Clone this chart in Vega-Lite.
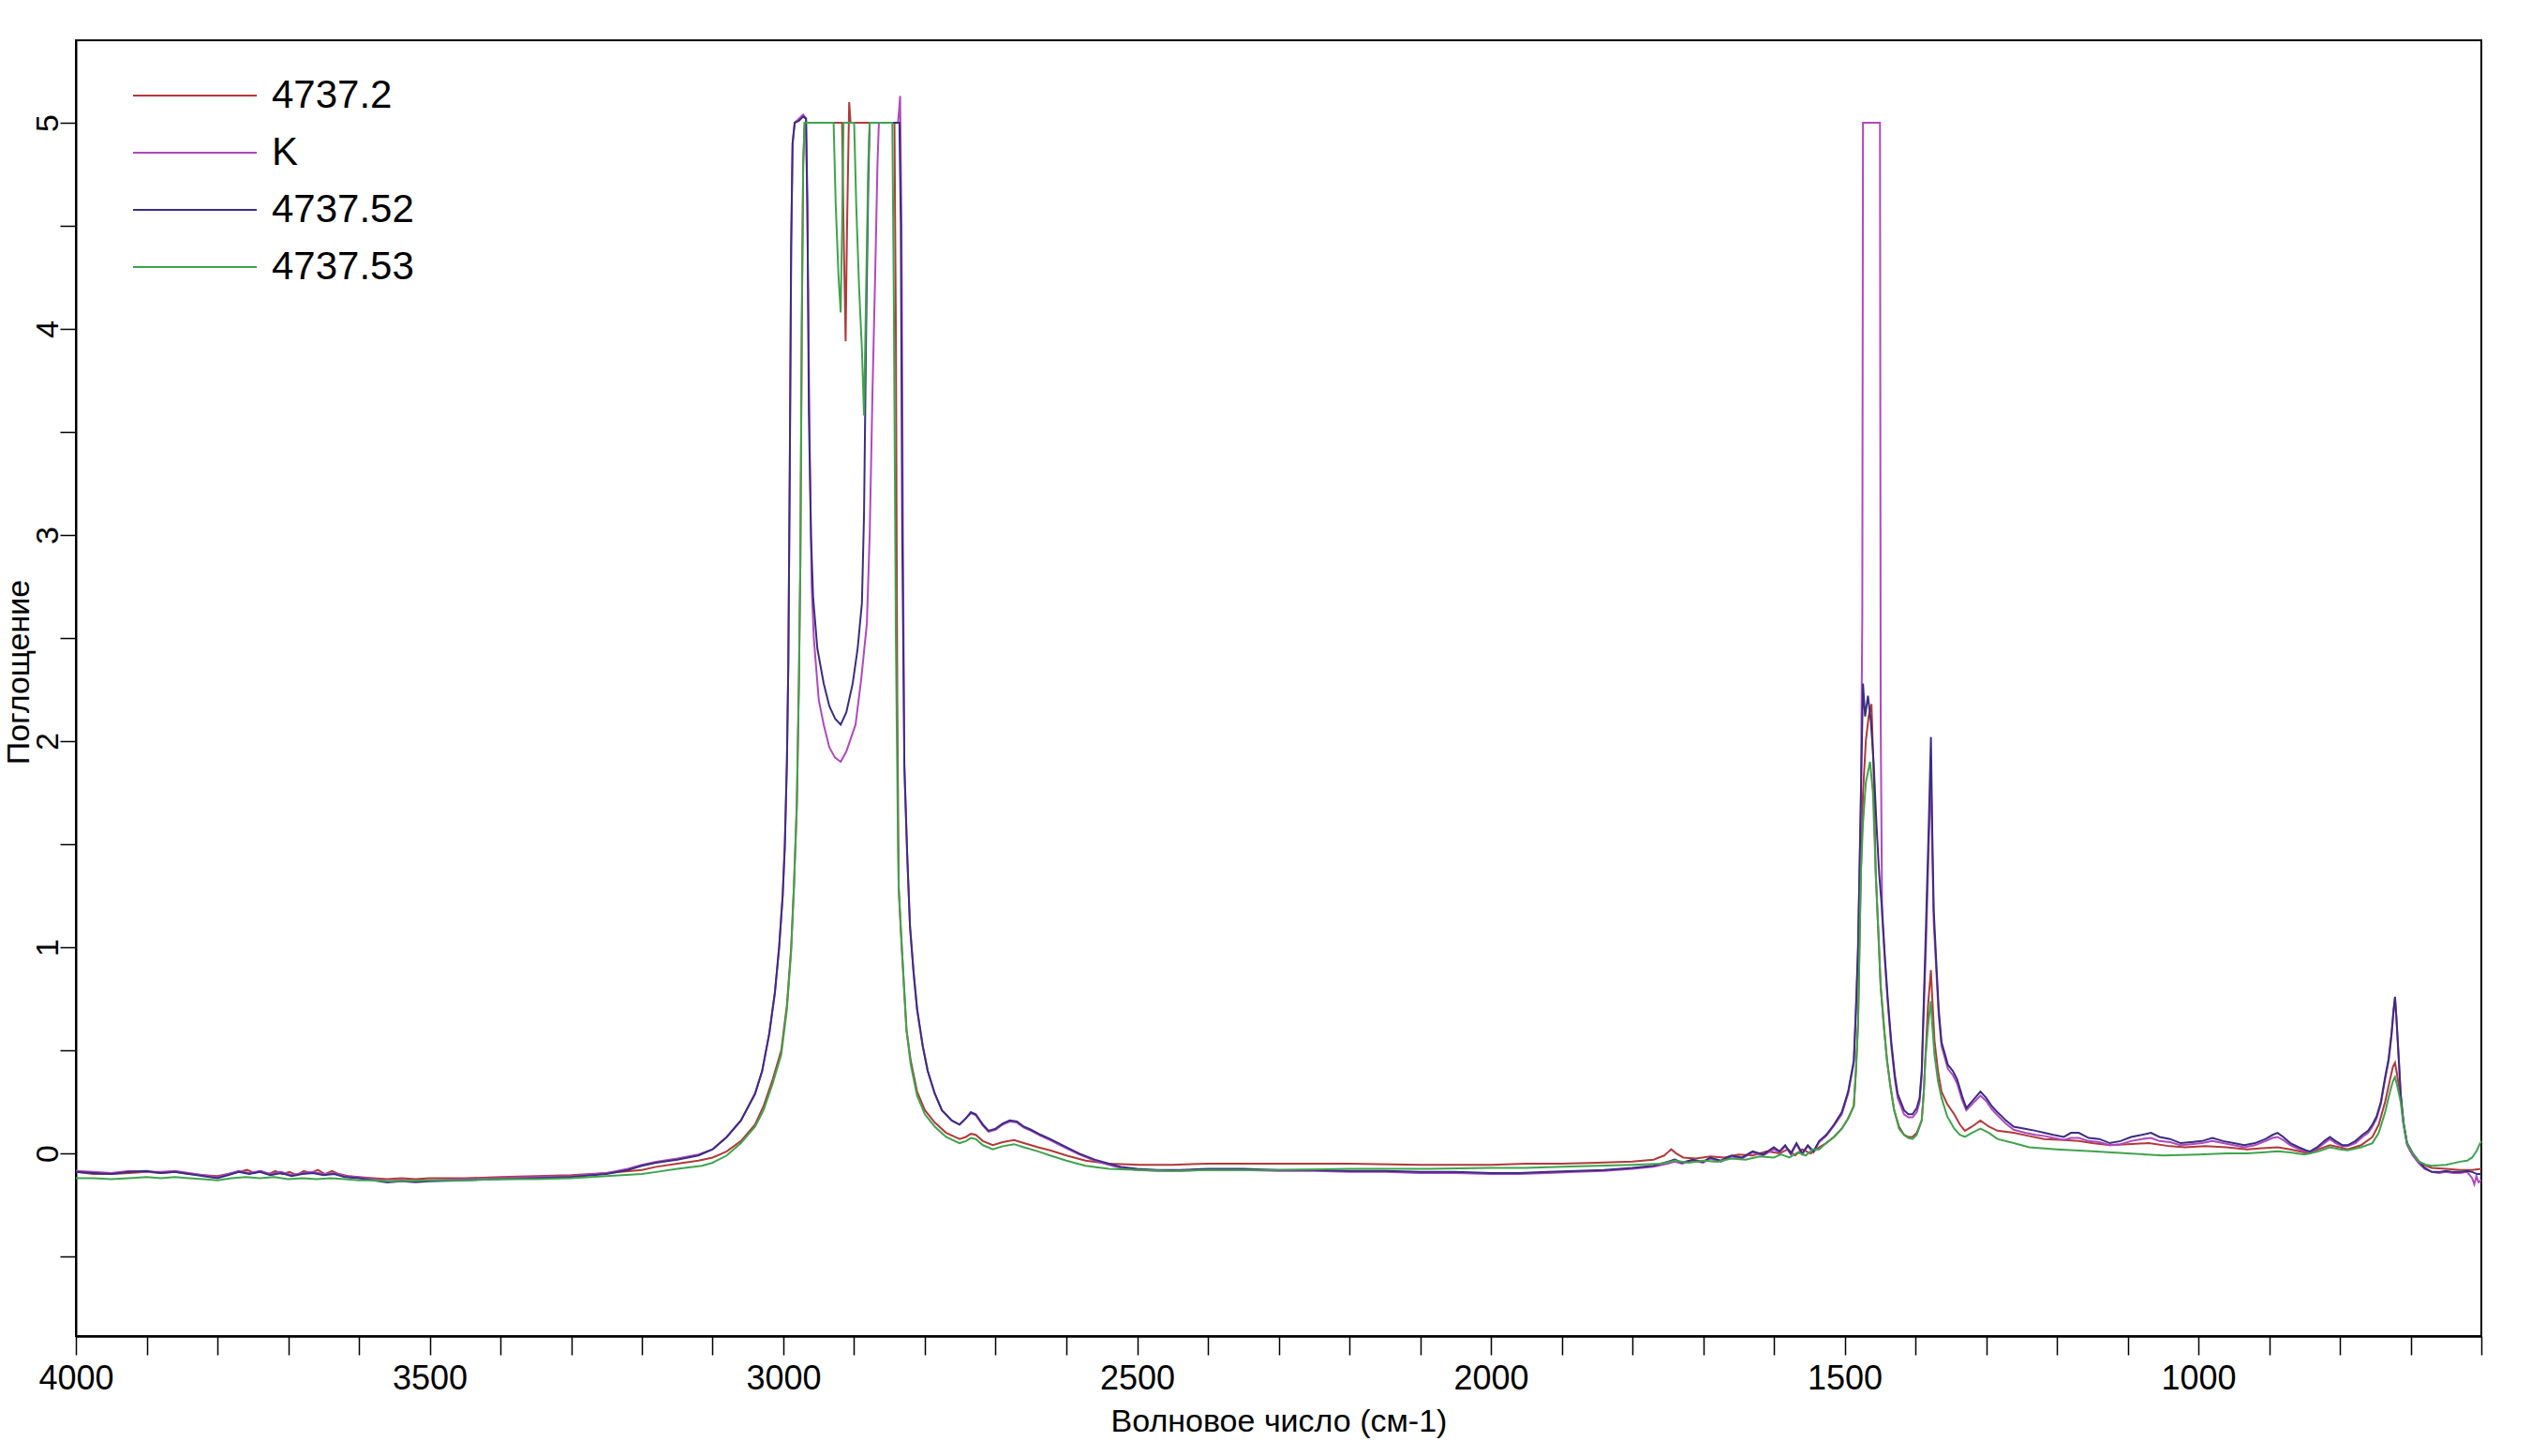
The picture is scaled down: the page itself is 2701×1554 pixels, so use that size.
{
  "$schema": "https://vega.github.io/schema/vega-lite/v6.json",
  "width": 2567,
  "height": 1383,
  "autosize": {"type": "none"},
  "padding": {"left": 81, "top": 43, "right": 53, "bottom": 128},
  "background": "white",
  "config": {"view": {"stroke": "black", "strokeWidth": 2}, "font": "Liberation Sans"},
  "datasets": {
    "n2": [{"x":4000,"y":-0.09},{"x":3975,"y":-0.1},{"x":3950,"y":-0.1},{"x":3925,"y":-0.095},{"x":3900,"y":-0.09},{"x":3880,"y":-0.095},{"x":3860,"y":-0.09},{"x":3840,"y":-0.1},{"x":3820,"y":-0.105},{"x":3800,"y":-0.11},{"x":3785,"y":-0.1},{"x":3770,"y":-0.09},{"x":3758,"y":-0.08},{"x":3748,"y":-0.095},{"x":3738,"y":-0.085},{"x":3728,"y":-0.1},{"x":3718,"y":-0.085},{"x":3708,"y":-0.1},{"x":3698,"y":-0.09},{"x":3688,"y":-0.105},{"x":3678,"y":-0.085},{"x":3668,"y":-0.095},{"x":3658,"y":-0.08},{"x":3648,"y":-0.1},{"x":3638,"y":-0.085},{"x":3628,"y":-0.1},{"x":3615,"y":-0.11},{"x":3600,"y":-0.115},{"x":3580,"y":-0.12},{"x":3560,"y":-0.125},{"x":3540,"y":-0.12},{"x":3520,"y":-0.125},{"x":3500,"y":-0.12},{"x":3450,"y":-0.12},{"x":3400,"y":-0.115},{"x":3350,"y":-0.11},{"x":3300,"y":-0.105},{"x":3250,"y":-0.095},{"x":3200,"y":-0.08},{"x":3180,"y":-0.065},{"x":3150,"y":-0.05},{"x":3120,"y":-0.035},{"x":3100,"y":-0.02},{"x":3080,"y":0.01},{"x":3060,"y":0.06},{"x":3040,"y":0.14},{"x":3028,"y":0.23},{"x":3015,"y":0.36},{"x":3003,"y":0.5},{"x":2995,"y":0.72},{"x":2989,"y":1.0},{"x":2985,"y":1.3},{"x":2981,"y":1.69},{"x":2978,"y":2.3},{"x":2976,"y":2.87},{"x":2974,"y":4.0},{"x":2972,"y":4.8},{"x":2970,"y":5.0},{"x":2940,"y":5.0},{"x":2917,"y":5.0},{"x":2915,"y":4.5},{"x":2912,"y":3.94},{"x":2910,"y":4.5},{"x":2907,"y":5.1},{"x":2905,"y":5.0},{"x":2870,"y":5.0},{"x":2843,"y":5.0},{"x":2841,"y":4.0},{"x":2839,"y":2.2},{"x":2837,"y":1.29},{"x":2834,"y":1.08},{"x":2831,"y":0.9},{"x":2826,"y":0.6},{"x":2820,"y":0.45},{"x":2811,"y":0.3},{"x":2800,"y":0.21},{"x":2786,"y":0.15},{"x":2770,"y":0.1},{"x":2751,"y":0.07},{"x":2742,"y":0.08},{"x":2735,"y":0.095},{"x":2728,"y":0.09},{"x":2718,"y":0.06},{"x":2704,"y":0.04},{"x":2690,"y":0.055},{"x":2674,"y":0.065},{"x":2660,"y":0.05},{"x":2640,"y":0.03},{"x":2623,"y":0.015},{"x":2600,"y":-0.01},{"x":2573,"y":-0.035},{"x":2540,"y":-0.05},{"x":2496,"y":-0.055},{"x":2450,"y":-0.055},{"x":2400,"y":-0.05},{"x":2300,"y":-0.05},{"x":2200,"y":-0.05},{"x":2100,"y":-0.055},{"x":2000,"y":-0.055},{"x":1950,"y":-0.05},{"x":1900,"y":-0.05},{"x":1850,"y":-0.045},{"x":1800,"y":-0.04},{"x":1770,"y":-0.03},{"x":1755,"y":-0.01},{"x":1745,"y":0.02},{"x":1738,"y":0.0},{"x":1728,"y":-0.02},{"x":1710,"y":-0.025},{"x":1690,"y":-0.015},{"x":1670,"y":-0.02},{"x":1650,"y":-0.005},{"x":1630,"y":-0.01},{"x":1610,"y":0.01},{"x":1592,"y":0.0},{"x":1580,"y":0.02},{"x":1570,"y":-0.01},{"x":1560,"y":0.02},{"x":1548,"y":0.0},{"x":1536,"y":0.03},{"x":1526,"y":0.05},{"x":1515,"y":0.08},{"x":1504,"y":0.12},{"x":1495,"y":0.17},{"x":1487,"y":0.23},{"x":1484,"y":0.4},{"x":1481,"y":0.63},{"x":1477,"y":1.36},{"x":1474,"y":1.75},{"x":1470,"y":2.0},{"x":1466,"y":2.12},{"x":1462,"y":2.18},{"x":1459,"y":1.85},{"x":1456,"y":1.36},{"x":1452,"y":1.05},{"x":1449,"y":0.81},{"x":1444,"y":0.6},{"x":1440,"y":0.45},{"x":1435,"y":0.32},{"x":1430,"y":0.21},{"x":1423,"y":0.13},{"x":1416,"y":0.09},{"x":1410,"y":0.08},{"x":1404,"y":0.08},{"x":1398,"y":0.1},{"x":1391,"y":0.16},{"x":1388,"y":0.3},{"x":1386,"y":0.45},{"x":1382,"y":0.72},{"x":1378,"y":0.89},{"x":1376,"y":0.75},{"x":1373,"y":0.55},{"x":1368,"y":0.4},{"x":1363,"y":0.3},{"x":1355,"y":0.24},{"x":1345,"y":0.19},{"x":1337,"y":0.14},{"x":1330,"y":0.11},{"x":1320,"y":0.13},{"x":1308,"y":0.16},{"x":1296,"y":0.13},{"x":1284,"y":0.11},{"x":1261,"y":0.1},{"x":1240,"y":0.085},{"x":1218,"y":0.07},{"x":1190,"y":0.065},{"x":1169,"y":0.06},{"x":1150,"y":0.05},{"x":1125,"y":0.04},{"x":1100,"y":0.045},{"x":1070,"y":0.05},{"x":1040,"y":0.035},{"x":1019,"y":0.03},{"x":990,"y":0.035},{"x":960,"y":0.03},{"x":931,"y":0.02},{"x":910,"y":0.025},{"x":888,"y":0.03},{"x":870,"y":0.02},{"x":850,"y":0.005},{"x":842,"y":0.0},{"x":830,"y":0.02},{"x":814,"y":0.04},{"x":800,"y":0.03},{"x":789,"y":0.02},{"x":770,"y":0.04},{"x":754,"y":0.08},{"x":745,"y":0.14},{"x":736,"y":0.25},{"x":729,"y":0.36},{"x":725,"y":0.42},{"x":722,"y":0.44},{"x":719,"y":0.38},{"x":714,"y":0.27},{"x":710,"y":0.15},{"x":705,"y":0.05},{"x":697,"y":0.0},{"x":688,"y":-0.04},{"x":678,"y":-0.06},{"x":670,"y":-0.07},{"x":650,"y":-0.075},{"x":630,"y":-0.08},{"x":613,"y":-0.08},{"x":600,"y":-0.075}],
    "nK": [{"x":4000,"y":-0.085},{"x":3975,"y":-0.09},{"x":3950,"y":-0.095},{"x":3925,"y":-0.085},{"x":3900,"y":-0.09},{"x":3880,"y":-0.09},{"x":3860,"y":-0.085},{"x":3840,"y":-0.095},{"x":3820,"y":-0.105},{"x":3800,"y":-0.115},{"x":3785,"y":-0.1},{"x":3770,"y":-0.085},{"x":3755,"y":-0.095},{"x":3740,"y":-0.085},{"x":3725,"y":-0.1},{"x":3710,"y":-0.09},{"x":3695,"y":-0.105},{"x":3680,"y":-0.095},{"x":3665,"y":-0.09},{"x":3650,"y":-0.1},{"x":3635,"y":-0.095},{"x":3620,"y":-0.11},{"x":3600,"y":-0.115},{"x":3580,"y":-0.125},{"x":3560,"y":-0.135},{"x":3540,"y":-0.13},{"x":3520,"y":-0.135},{"x":3500,"y":-0.13},{"x":3450,"y":-0.125},{"x":3400,"y":-0.12},{"x":3350,"y":-0.115},{"x":3300,"y":-0.11},{"x":3250,"y":-0.095},{"x":3220,"y":-0.075},{"x":3200,"y":-0.055},{"x":3180,"y":-0.04},{"x":3150,"y":-0.025},{"x":3120,"y":-0.005},{"x":3100,"y":0.02},{"x":3080,"y":0.08},{"x":3060,"y":0.16},{"x":3040,"y":0.29},{"x":3030,"y":0.4},{"x":3020,"y":0.58},{"x":3012,"y":0.78},{"x":3006,"y":1.0},{"x":3001,"y":1.25},{"x":2998,"y":1.49},{"x":2995,"y":1.9},{"x":2993,"y":2.38},{"x":2991,"y":3.3},{"x":2989,"y":4.4},{"x":2987,"y":4.9},{"x":2984,"y":5.0},{"x":2978,"y":5.02},{"x":2972,"y":5.04},{"x":2968,"y":5.02},{"x":2966,"y":4.5},{"x":2963,"y":3.5},{"x":2960,"y":2.75},{"x":2957,"y":2.5},{"x":2950,"y":2.2},{"x":2943,"y":2.08},{"x":2935,"y":1.97},{"x":2927,"y":1.92},{"x":2919,"y":1.9},{"x":2911,"y":1.95},{"x":2904,"y":2.02},{"x":2898,"y":2.08},{"x":2890,"y":2.3},{"x":2882,"y":2.57},{"x":2878,"y":3.0},{"x":2874,"y":3.7},{"x":2870,"y":4.3},{"x":2867,"y":4.8},{"x":2865,"y":5.0},{"x":2850,"y":5.0},{"x":2838,"y":5.0},{"x":2836,"y":5.08},{"x":2835,"y":5.13},{"x":2833,"y":4.5},{"x":2831,"y":3.0},{"x":2829,"y":1.88},{"x":2825,"y":1.45},{"x":2821,"y":1.1},{"x":2816,"y":0.88},{"x":2811,"y":0.7},{"x":2803,"y":0.52},{"x":2796,"y":0.4},{"x":2786,"y":0.29},{"x":2776,"y":0.21},{"x":2762,"y":0.16},{"x":2751,"y":0.14},{"x":2742,"y":0.17},{"x":2735,"y":0.195},{"x":2728,"y":0.185},{"x":2718,"y":0.135},{"x":2710,"y":0.105},{"x":2700,"y":0.115},{"x":2690,"y":0.14},{"x":2680,"y":0.155},{"x":2670,"y":0.15},{"x":2660,"y":0.125},{"x":2650,"y":0.11},{"x":2636,"y":0.085},{"x":2623,"y":0.065},{"x":2600,"y":0.025},{"x":2582,"y":-0.005},{"x":2560,"y":-0.035},{"x":2540,"y":-0.055},{"x":2523,"y":-0.07},{"x":2500,"y":-0.08},{"x":2471,"y":-0.085},{"x":2440,"y":-0.085},{"x":2400,"y":-0.08},{"x":2350,"y":-0.08},{"x":2300,"y":-0.085},{"x":2250,"y":-0.085},{"x":2200,"y":-0.09},{"x":2150,"y":-0.09},{"x":2100,"y":-0.095},{"x":2050,"y":-0.095},{"x":2000,"y":-0.1},{"x":1960,"y":-0.1},{"x":1920,"y":-0.095},{"x":1880,"y":-0.09},{"x":1840,"y":-0.085},{"x":1800,"y":-0.075},{"x":1770,"y":-0.065},{"x":1750,"y":-0.05},{"x":1740,"y":-0.04},{"x":1730,"y":-0.05},{"x":1715,"y":-0.035},{"x":1700,"y":-0.045},{"x":1690,"y":-0.025},{"x":1675,"y":-0.04},{"x":1660,"y":-0.015},{"x":1645,"y":-0.025},{"x":1630,"y":0.005},{"x":1615,"y":-0.01},{"x":1600,"y":0.02},{"x":1592,"y":0.005},{"x":1584,"y":0.035},{"x":1576,"y":-0.005},{"x":1568,"y":0.045},{"x":1560,"y":-0.005},{"x":1552,"y":0.035},{"x":1544,"y":0.005},{"x":1536,"y":0.055},{"x":1526,"y":0.085},{"x":1515,"y":0.135},{"x":1504,"y":0.19},{"x":1495,"y":0.29},{"x":1487,"y":0.44},{"x":1484,"y":0.68},{"x":1481,"y":0.98},{"x":1477,"y":1.7},{"x":1475,"y":2.6},{"x":1474,"y":5.0},{"x":1460,"y":5.0},{"x":1450,"y":5.0},{"x":1449,"y":2.1},{"x":1447,"y":1.16},{"x":1443,"y":0.93},{"x":1439,"y":0.73},{"x":1434,"y":0.52},{"x":1429,"y":0.36},{"x":1425,"y":0.27},{"x":1416,"y":0.19},{"x":1410,"y":0.175},{"x":1404,"y":0.175},{"x":1398,"y":0.2},{"x":1394,"y":0.25},{"x":1391,"y":0.38},{"x":1389,"y":0.6},{"x":1385,"y":1.0},{"x":1381,"y":1.5},{"x":1378,"y":1.86},{"x":1376,"y":1.45},{"x":1374,"y":1.12},{"x":1370,"y":0.86},{"x":1367,"y":0.67},{"x":1363,"y":0.52},{"x":1358,"y":0.46},{"x":1354,"y":0.41},{"x":1347,"y":0.38},{"x":1341,"y":0.34},{"x":1334,"y":0.26},{"x":1328,"y":0.21},{"x":1318,"y":0.245},{"x":1308,"y":0.28},{"x":1300,"y":0.255},{"x":1292,"y":0.215},{"x":1284,"y":0.185},{"x":1272,"y":0.145},{"x":1261,"y":0.115},{"x":1245,"y":0.1},{"x":1230,"y":0.09},{"x":1218,"y":0.085},{"x":1205,"y":0.075},{"x":1190,"y":0.065},{"x":1180,"y":0.075},{"x":1169,"y":0.075},{"x":1155,"y":0.06},{"x":1140,"y":0.055},{"x":1125,"y":0.04},{"x":1110,"y":0.045},{"x":1095,"y":0.06},{"x":1080,"y":0.07},{"x":1067,"y":0.075},{"x":1055,"y":0.06},{"x":1040,"y":0.055},{"x":1025,"y":0.04},{"x":1010,"y":0.045},{"x":995,"y":0.05},{"x":980,"y":0.06},{"x":965,"y":0.05},{"x":950,"y":0.04},{"x":935,"y":0.03},{"x":920,"y":0.04},{"x":905,"y":0.06},{"x":895,"y":0.075},{"x":888,"y":0.08},{"x":880,"y":0.065},{"x":870,"y":0.04},{"x":858,"y":0.02},{"x":848,"y":0.01},{"x":842,"y":0.005},{"x":832,"y":0.025},{"x":822,"y":0.05},{"x":814,"y":0.07},{"x":806,"y":0.05},{"x":796,"y":0.035},{"x":789,"y":0.035},{"x":778,"y":0.05},{"x":768,"y":0.08},{"x":760,"y":0.1},{"x":754,"y":0.13},{"x":748,"y":0.17},{"x":742,"y":0.24},{"x":736,"y":0.36},{"x":731,"y":0.45},{"x":727,"y":0.57},{"x":724,"y":0.69},{"x":722,"y":0.75},{"x":720,"y":0.65},{"x":717,"y":0.47},{"x":714,"y":0.28},{"x":710,"y":0.14},{"x":705,"y":0.04},{"x":697,"y":-0.01},{"x":688,"y":-0.05},{"x":680,"y":-0.075},{"x":670,"y":-0.09},{"x":660,"y":-0.095},{"x":650,"y":-0.09},{"x":640,"y":-0.095},{"x":630,"y":-0.095},{"x":620,"y":-0.09},{"x":613,"y":-0.12},{"x":610,"y":-0.15},{"x":607,"y":-0.11},{"x":604,"y":-0.14},{"x":600,"y":-0.13}],
    "n52": [{"x":4000,"y":-0.09},{"x":3975,"y":-0.095},{"x":3950,"y":-0.1},{"x":3925,"y":-0.09},{"x":3900,"y":-0.085},{"x":3880,"y":-0.095},{"x":3860,"y":-0.09},{"x":3840,"y":-0.1},{"x":3820,"y":-0.11},{"x":3800,"y":-0.12},{"x":3785,"y":-0.105},{"x":3770,"y":-0.09},{"x":3755,"y":-0.1},{"x":3740,"y":-0.09},{"x":3725,"y":-0.105},{"x":3710,"y":-0.095},{"x":3695,"y":-0.11},{"x":3680,"y":-0.1},{"x":3665,"y":-0.095},{"x":3650,"y":-0.105},{"x":3635,"y":-0.1},{"x":3620,"y":-0.115},{"x":3600,"y":-0.12},{"x":3580,"y":-0.13},{"x":3560,"y":-0.14},{"x":3540,"y":-0.135},{"x":3520,"y":-0.14},{"x":3500,"y":-0.135},{"x":3450,"y":-0.13},{"x":3400,"y":-0.125},{"x":3350,"y":-0.12},{"x":3300,"y":-0.115},{"x":3250,"y":-0.1},{"x":3220,"y":-0.08},{"x":3200,"y":-0.06},{"x":3180,"y":-0.045},{"x":3150,"y":-0.03},{"x":3120,"y":-0.01},{"x":3100,"y":0.02},{"x":3080,"y":0.08},{"x":3060,"y":0.16},{"x":3040,"y":0.29},{"x":3030,"y":0.4},{"x":3020,"y":0.58},{"x":3012,"y":0.78},{"x":3006,"y":1.0},{"x":3001,"y":1.25},{"x":2998,"y":1.49},{"x":2995,"y":1.9},{"x":2993,"y":2.38},{"x":2991,"y":3.3},{"x":2989,"y":4.4},{"x":2987,"y":4.9},{"x":2984,"y":5.0},{"x":2978,"y":5.01},{"x":2972,"y":5.03},{"x":2968,"y":5.02},{"x":2966,"y":4.6},{"x":2964,"y":3.6},{"x":2961,"y":3.0},{"x":2958,"y":2.7},{"x":2952,"y":2.45},{"x":2943,"y":2.28},{"x":2935,"y":2.17},{"x":2927,"y":2.11},{"x":2919,"y":2.08},{"x":2911,"y":2.14},{"x":2902,"y":2.28},{"x":2895,"y":2.45},{"x":2889,"y":2.67},{"x":2886,"y":3.1},{"x":2883,"y":4.0},{"x":2880,"y":4.7},{"x":2878,"y":5.0},{"x":2860,"y":5.0},{"x":2845,"y":5.0},{"x":2836,"y":5.0},{"x":2834,"y":4.5},{"x":2832,"y":3.0},{"x":2829,"y":1.88},{"x":2825,"y":1.45},{"x":2821,"y":1.1},{"x":2816,"y":0.88},{"x":2811,"y":0.7},{"x":2803,"y":0.52},{"x":2796,"y":0.4},{"x":2786,"y":0.29},{"x":2776,"y":0.21},{"x":2762,"y":0.16},{"x":2751,"y":0.14},{"x":2742,"y":0.17},{"x":2735,"y":0.2},{"x":2728,"y":0.19},{"x":2718,"y":0.14},{"x":2710,"y":0.11},{"x":2700,"y":0.12},{"x":2690,"y":0.145},{"x":2680,"y":0.16},{"x":2670,"y":0.155},{"x":2660,"y":0.13},{"x":2650,"y":0.115},{"x":2636,"y":0.09},{"x":2623,"y":0.07},{"x":2600,"y":0.03},{"x":2582,"y":0.0},{"x":2560,"y":-0.03},{"x":2540,"y":-0.05},{"x":2523,"y":-0.065},{"x":2500,"y":-0.075},{"x":2471,"y":-0.08},{"x":2440,"y":-0.08},{"x":2400,"y":-0.075},{"x":2350,"y":-0.075},{"x":2300,"y":-0.08},{"x":2250,"y":-0.08},{"x":2200,"y":-0.085},{"x":2150,"y":-0.085},{"x":2100,"y":-0.09},{"x":2050,"y":-0.09},{"x":2000,"y":-0.095},{"x":1960,"y":-0.095},{"x":1920,"y":-0.09},{"x":1880,"y":-0.085},{"x":1840,"y":-0.08},{"x":1800,"y":-0.07},{"x":1770,"y":-0.06},{"x":1750,"y":-0.04},{"x":1740,"y":-0.03},{"x":1730,"y":-0.045},{"x":1715,"y":-0.03},{"x":1700,"y":-0.04},{"x":1690,"y":-0.02},{"x":1675,"y":-0.035},{"x":1660,"y":-0.01},{"x":1645,"y":-0.02},{"x":1630,"y":0.01},{"x":1615,"y":-0.005},{"x":1600,"y":0.03},{"x":1592,"y":0.01},{"x":1584,"y":0.04},{"x":1576,"y":0.0},{"x":1568,"y":0.05},{"x":1560,"y":0.0},{"x":1552,"y":0.04},{"x":1544,"y":0.01},{"x":1536,"y":0.06},{"x":1526,"y":0.09},{"x":1515,"y":0.14},{"x":1504,"y":0.2},{"x":1495,"y":0.3},{"x":1487,"y":0.45},{"x":1484,"y":0.7},{"x":1481,"y":1.0},{"x":1477,"y":1.73},{"x":1474,"y":2.28},{"x":1471,"y":2.12},{"x":1467,"y":2.22},{"x":1463,"y":2.1},{"x":1459,"y":1.9},{"x":1455,"y":1.6},{"x":1451,"y":1.35},{"x":1447,"y":1.18},{"x":1443,"y":0.95},{"x":1439,"y":0.75},{"x":1434,"y":0.54},{"x":1429,"y":0.38},{"x":1425,"y":0.29},{"x":1416,"y":0.21},{"x":1410,"y":0.19},{"x":1404,"y":0.19},{"x":1398,"y":0.22},{"x":1394,"y":0.27},{"x":1391,"y":0.4},{"x":1389,"y":0.63},{"x":1385,"y":1.1},{"x":1381,"y":1.6},{"x":1378,"y":2.02},{"x":1376,"y":1.55},{"x":1374,"y":1.18},{"x":1370,"y":0.9},{"x":1367,"y":0.7},{"x":1363,"y":0.54},{"x":1358,"y":0.48},{"x":1354,"y":0.43},{"x":1347,"y":0.4},{"x":1341,"y":0.36},{"x":1334,"y":0.28},{"x":1328,"y":0.22},{"x":1318,"y":0.26},{"x":1308,"y":0.3},{"x":1300,"y":0.27},{"x":1292,"y":0.23},{"x":1284,"y":0.2},{"x":1272,"y":0.16},{"x":1261,"y":0.13},{"x":1245,"y":0.12},{"x":1230,"y":0.11},{"x":1218,"y":0.1},{"x":1205,"y":0.09},{"x":1190,"y":0.08},{"x":1180,"y":0.1},{"x":1169,"y":0.1},{"x":1155,"y":0.075},{"x":1140,"y":0.07},{"x":1125,"y":0.05},{"x":1110,"y":0.06},{"x":1095,"y":0.08},{"x":1080,"y":0.09},{"x":1067,"y":0.1},{"x":1055,"y":0.08},{"x":1040,"y":0.07},{"x":1025,"y":0.05},{"x":1010,"y":0.055},{"x":995,"y":0.06},{"x":980,"y":0.075},{"x":965,"y":0.06},{"x":950,"y":0.05},{"x":935,"y":0.04},{"x":920,"y":0.05},{"x":905,"y":0.07},{"x":895,"y":0.09},{"x":888,"y":0.1},{"x":880,"y":0.08},{"x":870,"y":0.05},{"x":858,"y":0.03},{"x":848,"y":0.015},{"x":842,"y":0.01},{"x":832,"y":0.03},{"x":822,"y":0.06},{"x":814,"y":0.08},{"x":806,"y":0.06},{"x":796,"y":0.04},{"x":789,"y":0.04},{"x":778,"y":0.06},{"x":768,"y":0.09},{"x":760,"y":0.11},{"x":754,"y":0.14},{"x":748,"y":0.18},{"x":742,"y":0.25},{"x":736,"y":0.37},{"x":731,"y":0.46},{"x":727,"y":0.58},{"x":724,"y":0.7},{"x":722,"y":0.76},{"x":720,"y":0.66},{"x":717,"y":0.48},{"x":714,"y":0.29},{"x":710,"y":0.15},{"x":705,"y":0.05},{"x":697,"y":0.0},{"x":688,"y":-0.04},{"x":680,"y":-0.07},{"x":670,"y":-0.09},{"x":660,"y":-0.09},{"x":650,"y":-0.085},{"x":640,"y":-0.09},{"x":630,"y":-0.09},{"x":620,"y":-0.085},{"x":613,"y":-0.09},{"x":606,"y":-0.1},{"x":600,"y":-0.1}],
    "n53": [{"x":4000,"y":-0.12},{"x":3975,"y":-0.12},{"x":3950,"y":-0.125},{"x":3925,"y":-0.12},{"x":3900,"y":-0.115},{"x":3880,"y":-0.12},{"x":3860,"y":-0.115},{"x":3840,"y":-0.12},{"x":3820,"y":-0.125},{"x":3800,"y":-0.13},{"x":3780,"y":-0.12},{"x":3760,"y":-0.115},{"x":3740,"y":-0.12},{"x":3720,"y":-0.115},{"x":3700,"y":-0.125},{"x":3680,"y":-0.12},{"x":3660,"y":-0.125},{"x":3640,"y":-0.12},{"x":3620,"y":-0.125},{"x":3600,"y":-0.13},{"x":3580,"y":-0.13},{"x":3560,"y":-0.135},{"x":3540,"y":-0.135},{"x":3500,"y":-0.13},{"x":3450,"y":-0.13},{"x":3400,"y":-0.125},{"x":3350,"y":-0.125},{"x":3300,"y":-0.12},{"x":3250,"y":-0.11},{"x":3200,"y":-0.1},{"x":3180,"y":-0.09},{"x":3150,"y":-0.075},{"x":3115,"y":-0.06},{"x":3100,"y":-0.045},{"x":3080,"y":-0.01},{"x":3060,"y":0.05},{"x":3040,"y":0.13},{"x":3028,"y":0.21},{"x":3015,"y":0.34},{"x":3003,"y":0.48},{"x":2995,"y":0.7},{"x":2989,"y":0.98},{"x":2985,"y":1.3},{"x":2981,"y":1.69},{"x":2978,"y":2.3},{"x":2976,"y":2.87},{"x":2974,"y":4.0},{"x":2972,"y":4.8},{"x":2970,"y":5.0},{"x":2950,"y":5.0},{"x":2929,"y":5.0},{"x":2926,"y":4.6},{"x":2922,"y":4.25},{"x":2919,"y":4.08},{"x":2917,"y":4.5},{"x":2915,"y":5.0},{"x":2900,"y":5.0},{"x":2897,"y":4.6},{"x":2893,"y":4.2},{"x":2889,"y":3.9},{"x":2886,"y":3.58},{"x":2883,"y":4.2},{"x":2880,"y":4.8},{"x":2878,"y":5.0},{"x":2860,"y":5.0},{"x":2846,"y":5.0},{"x":2844,"y":4.2},{"x":2841,"y":2.5},{"x":2838,"y":1.5},{"x":2837,"y":1.29},{"x":2831,"y":0.9},{"x":2826,"y":0.6},{"x":2820,"y":0.43},{"x":2811,"y":0.28},{"x":2800,"y":0.19},{"x":2786,"y":0.13},{"x":2770,"y":0.08},{"x":2751,"y":0.05},{"x":2742,"y":0.06},{"x":2735,"y":0.075},{"x":2728,"y":0.07},{"x":2718,"y":0.04},{"x":2704,"y":0.02},{"x":2690,"y":0.035},{"x":2674,"y":0.045},{"x":2660,"y":0.03},{"x":2640,"y":0.01},{"x":2623,"y":-0.01},{"x":2600,"y":-0.035},{"x":2573,"y":-0.06},{"x":2540,"y":-0.075},{"x":2496,"y":-0.08},{"x":2450,"y":-0.085},{"x":2400,"y":-0.08},{"x":2300,"y":-0.08},{"x":2200,"y":-0.075},{"x":2100,"y":-0.075},{"x":2000,"y":-0.07},{"x":1950,"y":-0.07},{"x":1900,"y":-0.065},{"x":1850,"y":-0.06},{"x":1800,"y":-0.055},{"x":1760,"y":-0.05},{"x":1740,"y":-0.035},{"x":1720,"y":-0.045},{"x":1700,"y":-0.035},{"x":1680,"y":-0.04},{"x":1660,"y":-0.025},{"x":1640,"y":-0.03},{"x":1620,"y":-0.015},{"x":1600,"y":-0.02},{"x":1590,"y":-0.005},{"x":1578,"y":-0.02},{"x":1566,"y":0.005},{"x":1555,"y":-0.01},{"x":1545,"y":0.02},{"x":1536,"y":0.02},{"x":1526,"y":0.05},{"x":1515,"y":0.08},{"x":1504,"y":0.12},{"x":1495,"y":0.17},{"x":1487,"y":0.23},{"x":1484,"y":0.4},{"x":1481,"y":0.63},{"x":1477,"y":1.36},{"x":1474,"y":1.6},{"x":1470,"y":1.8},{"x":1464,"y":1.9},{"x":1460,"y":1.75},{"x":1456,"y":1.36},{"x":1452,"y":1.05},{"x":1449,"y":0.81},{"x":1444,"y":0.6},{"x":1440,"y":0.45},{"x":1435,"y":0.32},{"x":1430,"y":0.21},{"x":1423,"y":0.12},{"x":1416,"y":0.09},{"x":1410,"y":0.075},{"x":1404,"y":0.07},{"x":1398,"y":0.09},{"x":1391,"y":0.16},{"x":1388,"y":0.3},{"x":1386,"y":0.45},{"x":1382,"y":0.62},{"x":1378,"y":0.74},{"x":1376,"y":0.62},{"x":1373,"y":0.48},{"x":1368,"y":0.35},{"x":1363,"y":0.27},{"x":1355,"y":0.18},{"x":1345,"y":0.12},{"x":1337,"y":0.09},{"x":1330,"y":0.08},{"x":1320,"y":0.1},{"x":1308,"y":0.12},{"x":1296,"y":0.1},{"x":1284,"y":0.07},{"x":1261,"y":0.05},{"x":1239,"y":0.03},{"x":1200,"y":0.02},{"x":1150,"y":0.01},{"x":1100,"y":0.0},{"x":1050,"y":-0.01},{"x":1000,"y":-0.005},{"x":960,"y":0.0},{"x":931,"y":0.0},{"x":910,"y":0.005},{"x":888,"y":0.01},{"x":870,"y":0.005},{"x":850,"y":-0.005},{"x":842,"y":0.0},{"x":830,"y":0.01},{"x":814,"y":0.03},{"x":800,"y":0.02},{"x":789,"y":0.015},{"x":770,"y":0.03},{"x":754,"y":0.05},{"x":745,"y":0.1},{"x":736,"y":0.2},{"x":729,"y":0.3},{"x":725,"y":0.35},{"x":722,"y":0.37},{"x":719,"y":0.33},{"x":714,"y":0.25},{"x":710,"y":0.14},{"x":705,"y":0.05},{"x":697,"y":0.0},{"x":688,"y":-0.04},{"x":678,"y":-0.055},{"x":670,"y":-0.06},{"x":650,"y":-0.055},{"x":630,"y":-0.04},{"x":620,"y":-0.035},{"x":613,"y":-0.02},{"x":607,"y":0.01},{"x":603,"y":0.04},{"x":600,"y":0.06}]
  },
  "encoding": {
    "x": {
      "field": "x",
      "type": "quantitative",
      "scale": {"domain": [600, 4000], "reverse": true, "nice": false, "zero": false},
      "axis": {
        "title": "Волновое число (см-1)",
        "values": [600,700,800,900,1000,1100,1200,1300,1400,1500,1600,1700,1800,1900,2000,2100,2200,2300,2400,2500,2600,2700,2800,2900,3000,3100,3200,3300,3400,3500,3600,3700,3800,3900,4000],
        "labelExpr": "datum.value % 500 === 0 ? format(datum.value, 'd') : ''",
        "labelFlush": false,
        "labelOverlap": false,
        "labelFontSize": 36,
        "labelColor": "black",
        "labelPadding": 8,
        "tickSize": 20,
        "tickWidth": 1.5,
        "tickColor": "black",
        "domainColor": "black",
        "domainWidth": 2.5,
        "grid": false,
        "titleFontSize": 34,
        "titleFontWeight": "normal",
        "titleColor": "black",
        "titleY": 91,
        "titleBaseline": "middle"
      }
    },
    "y": {
      "field": "y",
      "type": "quantitative",
      "scale": {"domain": [-0.886, 5.4], "nice": false, "zero": false},
      "axis": {
        "title": "Поглощение",
        "values": [-0.5,0,0.5,1,1.5,2,2.5,3,3.5,4,4.5,5],
        "labelExpr": "datum.value % 1 === 0 ? format(datum.value, 'd') : ''",
        "labelAngle": -90,
        "labelAlign": "center",
        "labelBaseline": "alphabetic",
        "labelFontSize": 34,
        "labelColor": "black",
        "labelPadding": 3,
        "tickSize": 17,
        "tickWidth": 1.5,
        "tickColor": "black",
        "domainColor": "black",
        "domainWidth": 2,
        "grid": false,
        "titleFontSize": 34,
        "titleFontWeight": "normal",
        "titleColor": "black",
        "titleAngle": -90,
        "titleX": -61,
        "titleY": 674,
        "titleAlign": "center",
        "titleBaseline": "middle"
      }
    }
  },
  "layer": [
    {
      "data": {"name": "n2"},
      "mark": {"type": "line", "strokeWidth": 2},
      "encoding": {
        "color": {
          "datum": "4737.2",
          "type": "nominal",
          "scale": {"domain": ["4737.2", "K", "4737.52", "4737.53"], "range": ["#b03a3a", "#b048c0", "#3b2d80", "#3fa34d"]},
          "legend": {
            "title": null,
            "orient": "none",
            "legendX": 101,
            "legendY": 33,
            "symbolType": "M-2.64,0H2.64",
            "symbolSize": 2500,
            "symbolStrokeWidth": 2,
            "symbolFillColor": "transparent",
            "labelFontSize": 42,
            "labelColor": "black",
            "labelOffset": 56,
            "rowPadding": 14,
            "padding": 0
          }
        }
      }
    },
    {
      "data": {"name": "nK"},
      "mark": {"type": "line", "strokeWidth": 2},
      "encoding": {"color": {"datum": "K", "type": "nominal"}}
    },
    {
      "data": {"name": "n52"},
      "mark": {"type": "line", "strokeWidth": 2},
      "encoding": {"color": {"datum": "4737.52", "type": "nominal"}}
    },
    {
      "data": {"name": "n53"},
      "mark": {"type": "line", "strokeWidth": 2},
      "encoding": {"color": {"datum": "4737.53", "type": "nominal"}}
    }
  ]
}
